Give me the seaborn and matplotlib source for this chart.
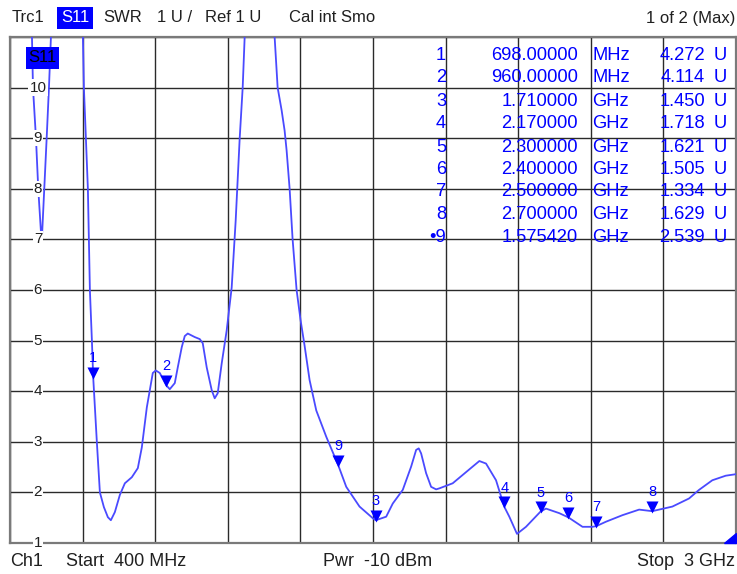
import numpy as np
import pandas as pd
import matplotlib
matplotlib.use("Agg")
import matplotlib.pyplot as plt
import matplotlib.transforms as mtrans
from matplotlib.patches import Rectangle, Polygon
import seaborn as sns

# ---------------- data ----------------
freq_mhz = [400, 450, 478.7, 482.3, 493.0, 501.2, 513.4, 522.7, 531.3, 539.5, 546.6,
            578.8, 621.7, 661.1, 664.6, 671.8, 678.9, 686.1, 693.3, 698.0, 711.1,
            721.9, 736.2, 750.5, 761.2, 775.5, 793.4, 811.3, 836.3, 857.8, 872.1,
            890.0, 900.7, 911.4, 922.1, 936.4, 960.0, 972.2, 990.1, 1000.8, 1015.1,
            1025.9, 1036.6, 1061.6, 1079.5, 1090.2, 1104.5, 1122.4, 1133.1, 1143.9,
            1158.2, 1176.0, 1193.9, 1208.2, 1222.6, 1233.3, 1240.4, 1265.5, 1294.1,
            1322.7, 1347.7, 1358.5, 1372.8, 1383.5, 1390.6, 1401.4, 1412.1, 1426.4,
            1440.7, 1455.0, 1472.9, 1496.8, 1532.6, 1575.42, 1604.2, 1651.7, 1699.3,
            1710.0, 1747.2, 1770.8, 1806.6, 1836.6, 1854.5, 1863.8, 1872.4, 1890.2,
            1908.1, 1926.0, 1937.8, 1985.4, 2056.9, 2080.9, 2104.8, 2140.6, 2170.0,
            2188.2, 2215.7, 2247.9, 2300.0, 2319.4, 2367.0, 2400.0, 2450.3, 2486.1,
            2500.0, 2534.0, 2593.4, 2653.1, 2700.0, 2772.2, 2831.9, 2867.7, 2915.2,
            2963.2, 3000.0]
swr = [13.5, 12.0, 11.0, 10.0, 9.0, 8.0, 6.92, 8.0, 9.0, 10.0, 11.0,
       13.0, 13.5, 11.0, 10.0, 9.0, 8.0, 6.0, 5.0, 4.272, 2.99,
       2.0, 1.71, 1.51, 1.45, 1.61, 1.95, 2.18, 2.30, 2.48, 2.89,
       3.68, 4.02, 4.36, 4.41, 4.36, 4.114, 4.04, 4.16, 4.47, 4.87,
       5.09, 5.14, 5.07, 5.03, 4.95, 4.47, 4.02, 3.86, 3.96,
       4.55, 5.20, 6.05, 7.37, 9.0, 10.0, 11.0, 12.8, 13.5,
       12.8, 11.0, 10.0, 9.55, 9.15, 8.76, 8.0, 7.0, 6.0,
       5.4, 4.9, 4.22, 3.62, 3.10, 2.539, 2.11, 1.72, 1.49,
       1.45, 1.52, 1.78, 2.05, 2.51, 2.84, 2.87, 2.77, 2.38,
       2.11, 2.06, 2.08, 2.18, 2.51, 2.62, 2.57, 2.24, 1.718,
       1.52, 1.18, 1.32, 1.621, 1.68, 1.59, 1.505, 1.32, 1.32,
       1.334, 1.42, 1.55, 1.66, 1.629, 1.72, 1.88, 2.05, 2.24,
       2.33, 2.36]

marker_ids = ["1", "2", "3", "4", "5", "6", "7", "8", "9"]
marker_freq_mhz = [698.0, 960.0, 1710.0, 2170.0, 2300.0, 2400.0, 2500.0, 2700.0, 1575.42]
marker_swr = [4.272, 4.114, 1.450, 1.718, 1.621, 1.505, 1.334, 1.629, 2.539]
marker_freq_text = ["698.00000", "960.00000", "1.710000", "2.170000", "2.300000",
                    "2.400000", "2.500000", "2.700000", "1.575420"]
marker_unit_text = ["MHz", "MHz", "GHz", "GHz", "GHz", "GHz", "GHz", "GHz", "GHz"]
marker_val_text = ["4.272", "4.114", "1.450", "1.718", "1.621", "1.505", "1.334", "1.629", "2.539"]

y_ticks = [1, 2, 3, 4, 5, 6, 7, 8, 9, 10]
start_mhz, stop_mhz = 400, 3000

# ---------------- figure ----------------
sns.set_style("white")
plt.rcParams["font.family"] = ["Liberation Sans", "DejaVu Sans"]

W, H = 737, 574
fig = plt.figure(figsize=(W / 100, H / 100), dpi=100)
fig.patch.set_facecolor("white")
ax = fig.add_axes([10 / W, 31 / H, 726 / W, 506 / H])

def fx(px):
    return px / W

def fy(py):
    return 1 - py / H

TRACE = "#4a4aff"
BLUE = "#0000ff"
TXT = "#202020"

df = pd.DataFrame({"f": freq_mhz, "swr": swr})
sns.lineplot(data=df, x="f", y="swr", ax=ax, color=TRACE, lw=1.3,
             sort=False, estimator=None, zorder=3)

ax.set_xlim(start_mhz, stop_mhz)
ax.set_ylim(1, 11)
ax.set_xticks(np.linspace(start_mhz, stop_mhz, 11))
ax.set_yticks(list(range(1, 12)))
ax.tick_params(axis="both", length=0, labelbottom=False, labelleft=False)
ax.grid(True, color="#2a2a2a", lw=1.0, zorder=1)
ax.set_xlabel("")
ax.set_ylabel("")
for s in ax.spines.values():
    s.set_color("#7a7a7a")
    s.set_linewidth(1.6)

# y labels inside plot
blend = mtrans.blended_transform_factory(ax.transAxes, ax.transData)
for v in y_ticks:
    ax.text(28 / 726, v, str(v), transform=blend, ha="center", va="center",
            fontsize=11, color=TXT, zorder=4,
            bbox=dict(boxstyle="square,pad=0.08", fc="white", ec="none"))

# markers (downward triangles with apex on the data point)
off = mtrans.offset_copy(ax.transData, fig=fig, x=0, y=4.5, units="dots")
sns.scatterplot(x=marker_freq_mhz, y=marker_swr, ax=ax, marker="v", s=75,
                color=BLUE, linewidth=0, transform=off, zorder=5, legend=False)
lab = mtrans.offset_copy(ax.transData, fig=fig, x=0, y=19, units="dots")
for mid, f, v in zip(marker_ids, marker_freq_mhz, marker_swr):
    ax.text(f, v, mid, transform=lab, ha="center", va="center",
            fontsize=10.5, color=BLUE, zorder=5)

# stimulus indicator at bottom-right corner
ax.add_patch(Polygon([[714 / 726, 0], [1, 0], [1, 10 / 506]], closed=True,
                     transform=ax.transAxes, fc=BLUE, ec=BLUE, zorder=6, clip_on=False))

# S11 label in plot
ax.add_patch(Rectangle((fx(26), fy(69)), 33 / W, 22 / H, transform=fig.transFigure,
                       fc=BLUE, ec="none", zorder=6))
fig.text(fx(42.5), fy(58), "S11", ha="center", va="center", fontsize=12,
         color="black", zorder=7)

# marker table
row_y = [55, 78, 101, 124, 147, 169, 192, 215, 238]
FS_T = 13.2
for i in range(9):
    y = fy(row_y[i])
    idt = ("\u2022" + marker_ids[i]) if marker_ids[i] == "9" else marker_ids[i]
    fig.text(fx(446), y, idt, ha="right", va="center", fontsize=FS_T, color=BLUE, zorder=7)
    fig.text(fx(578), y, marker_freq_text[i], ha="right", va="center", fontsize=FS_T, color=BLUE, zorder=7)
    fig.text(fx(592), y, marker_unit_text[i], ha="left", va="center", fontsize=FS_T, color=BLUE, zorder=7)
    fig.text(fx(705), y, marker_val_text[i], ha="right", va="center", fontsize=FS_T, color=BLUE, zorder=7)
    fig.text(fx(714), y, "U", ha="left", va="center", fontsize=FS_T, color=BLUE, zorder=7)

# header
hy = fy(18)
fig.text(fx(12), hy, "Trc1", ha="left", va="center", fontsize=12, color=TXT)
fig.patches.append(Rectangle((fx(57), fy(29)), 36 / W, 22 / H, transform=fig.transFigure,
                             fc=BLUE, ec="none", figure=fig))
fig.text(fx(75), hy, "S11", ha="center", va="center", fontsize=12, color="white")
fig.text(fx(103), hy, "SWR", ha="left", va="center", fontsize=12, color=TXT)
fig.text(fx(157), hy, "1 U /", ha="left", va="center", fontsize=12, color=TXT)
fig.text(fx(205), hy, "Ref 1 U", ha="left", va="center", fontsize=12, color=TXT)
fig.text(fx(289), hy, "Cal int Smo", ha="left", va="center", fontsize=12, color=TXT)
fig.text(fx(735), hy, "1 of 2 (Max)", ha="right", va="center", fontsize=12, color=TXT)

# footer
by = fy(562)
FS_B = 13
fig.text(fx(10), by, "Ch1", ha="left", va="center", fontsize=FS_B, color=TXT)
fig.text(fx(66), by, "Start  400 MHz", ha="left", va="center", fontsize=FS_B, color=TXT)
fig.text(fx(378), by, "Pwr  -10 dBm", ha="center", va="center", fontsize=FS_B, color=TXT)
fig.text(fx(735), by, "Stop  3 GHz", ha="right", va="center", fontsize=FS_B, color=TXT)

fig.savefig("out.png", dpi=100, facecolor="white")
